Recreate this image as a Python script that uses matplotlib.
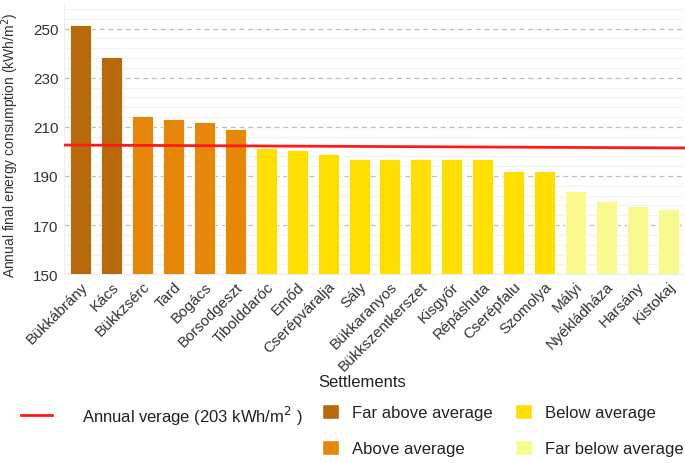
import matplotlib.pyplot as plt
from matplotlib.lines import Line2D
from matplotlib.patches import Patch

plt.rcParams['font.family'] = ['Liberation Sans', 'DejaVu Sans']

settlements = ['Bükkábrány', 'Kács', 'Bükkzsérc', 'Tard', 'Bogács', 'Borsodgeszt',
               'Tibolddaróc', 'Emőd', 'Cserépváralja', 'Sály', 'Bükkaranyos',
               'Bükkszentkerszet', 'Kisgyőr', 'Répáshuta', 'Cserépfalu', 'Szomolya',
               'Mályi', 'Nyékládháza', 'Harsány', 'Kistokaj']
consumption = [251.3, 238.4, 214.5, 213.4, 212.0, 209.1, 201.3, 200.7, 198.9, 196.8,
               196.8, 196.8, 196.8, 196.8, 192.2, 192.2, 183.8, 179.8, 177.8, 176.5]
groups = ['far_above'] * 2 + ['above'] * 4 + ['below'] * 10 + ['far_below'] * 4
avg_line = [202.6, 201.4]   # red line value at left / right edge

group_colors = {'far_above': '#b8690a', 'above': '#e6870a',
                'below': '#ffdf00', 'far_below': '#f9fa8e'}
group_labels = {'far_above': 'Far above average', 'above': 'Above average',
                'below': 'Below average', 'far_below': 'Far below average'}

fig = plt.figure(figsize=(6.85, 4.64), dpi=100)
ax = fig.add_axes([0.0934, 0.407, 0.9066, 0.582])

x = range(len(settlements))
colors = [group_colors[g] for g in groups]
ax.bar(x, consumption, width=0.68, color=colors, edgecolor='white', linewidth=0.6,
       zorder=3)

xmin, xmax = -0.55, len(settlements) - 0.45
ax.plot([xmin, xmax], avg_line, color='#ff1a1a', lw=2, zorder=4)

ax.set_xlim(xmin, xmax)
ax.set_ylim(150, 260)
ax.set_yticks([150, 170, 190, 210, 230, 250])
ax.set_yticks(range(150, 261, 4), minor=True)
ax.grid(axis='y', which='major', color='#b9c0c0', linestyle=(0, (4, 3)), lw=0.9, zorder=1)
ax.grid(axis='y', which='minor', color='#f2f2f2', lw=0.8, zorder=0)
ax.set_xticks(list(x))
ax.set_xticklabels(settlements, rotation=45, ha='right', rotation_mode='anchor',
                   fontsize=11, color='#333333')
ax.tick_params(axis='both', length=0, labelsize=11, colors='#333333')
ax.tick_params(axis='y', pad=4)
ax.tick_params(axis='y', which='minor', length=0)
for s in ['top', 'right']:
    ax.spines[s].set_visible(False)
ax.spines['left'].set_color('#eeeeee')
ax.spines['bottom'].set_color('#eeeeee')

ax.set_ylabel('Annual final energy consumption (kWh/m$^2$)', fontsize=10,
              color='#333333')
ax.yaxis.set_label_coords(-0.07, 0.48)
fig.text(0.528, 0.175, 'Settlements', fontsize=12, color='#222222',
         ha='center', va='center')

leg_kw = dict(frameon=False, fontsize=12, labelcolor='#222222', handleheight=1.0,
              handlelength=1.0, handletextpad=0.8, labelspacing=1.2,
              borderpad=0, borderaxespad=0)
fig.legend(handles=[Line2D([], [], color='#ff1a1a', lw=2)],
           labels=['Annual verage (203 kWh/m$^2$ )'], loc='upper left',
           bbox_to_anchor=(0.03, 0.128), **{**leg_kw, 'handlelength': 1.9,
                                             'handletextpad': 1.8})
for key_pair, x0 in [(('far_above', 'above'), 0.47), (('below', 'far_below'), 0.752)]:
    fig.legend(handles=[Patch(facecolor=group_colors[k], edgecolor='white') for k in key_pair],
               labels=[group_labels[k] for k in key_pair], loc='upper left',
               bbox_to_anchor=(x0, 0.128), **leg_kw)

fig.savefig('out.png', dpi=100)
